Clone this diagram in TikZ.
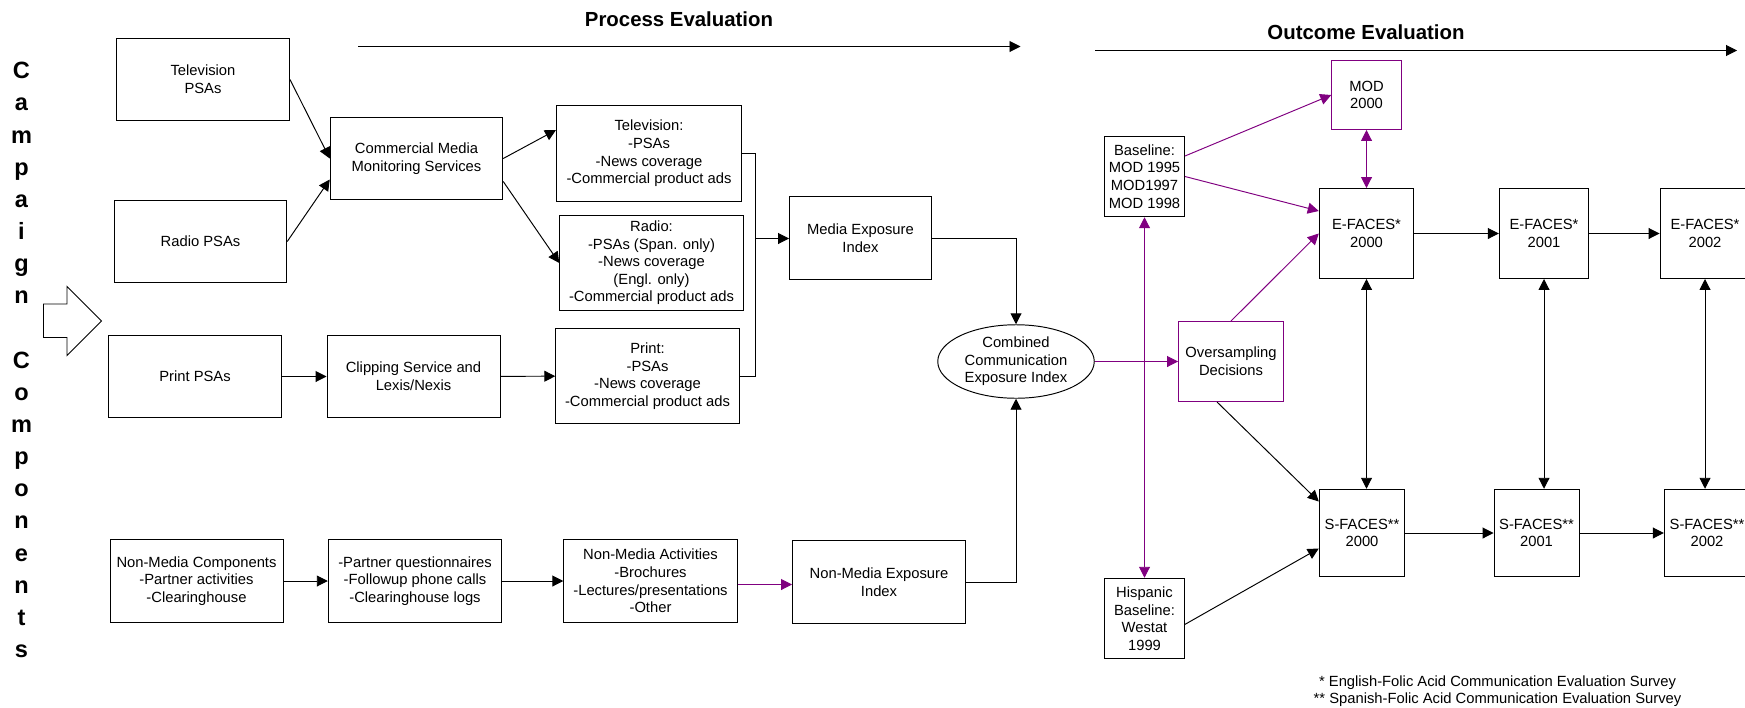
\documentclass[tikz,border=0pt]{standalone}
\usepackage{fontspec}
\setmainfont{Liberation Sans}
\usepackage{tikz}
\usetikzlibrary{arrows.meta, positioning, shapes.geometric, calc}
\definecolor{evalPurple}{HTML}{800080}
\definecolor{lineDark}{HTML}{000000}

\begin{document}
\begin{tikzpicture}[
    >={Triangle[length=2.2mm, width=2.2mm]},
    line width=0.55pt,
    box/.style={rectangle, draw=#1, line width=0.55pt, inner sep=1pt,
                font=\fontsize{8.4}{10}\selectfont, align=center},
    box/.default=lineDark,
    oval/.style={ellipse, draw, line width=0.55pt, inner sep=0pt,
                 font=\fontsize{8.4}{10}\selectfont, align=center},
    heading/.style={font=\fontsize{11.6}{14}\selectfont\bfseries},
  ]
    \clip (0,0) rectangle (34.9,-14.14);

    % campaign components
    \node[font=\fontsize{13.4}{18.3}\selectfont\bfseries, align=center] (campaign) at (0.43,-7.20)
      {C\\a\\m\\p\\a\\i\\g\\n\\~\\C\\o\\m\\p\\o\\n\\e\\n\\t\\s};
    \draw (0.87,-6.08) -- (1.34,-6.08) -- (1.34,-5.73) -- (2.03,-6.42)
      -- (1.34,-7.11) -- (1.34,-6.75) -- (0.87,-6.75) -- cycle;

    % evaluation headings
    \node[heading] (procTitle) at (13.58,-0.38) {Process Evaluation};
    \node[heading] (outTitle) at (27.32,-0.65) {Outcome Evaluation};
    \coordinate (procStart) at (7.16,-0.93);
    \coordinate (procEnd) at (20.41,-0.93);
    \coordinate (outStart) at (21.90,-1.01);
    \coordinate (outEnd) at (34.74,-1.01);
    \draw[->] (procStart) -- (procEnd);
    \draw[->] (outStart) -- (outEnd);

    % media components
    \node[box, minimum width=3.46cm, minimum height=1.65cm] (tvpsa) at (4.06,-1.59)
      {Television\\PSAs};
    \node[box, minimum width=3.45cm, minimum height=1.65cm] (radiopsa) at (4.01,-4.83)
      {Radio PSAs};
    \node[box, minimum width=3.46cm, minimum height=1.64cm] (printpsa) at (3.90,-7.53)
      {Print PSAs};
    \node[box, minimum width=3.45cm, minimum height=1.65cm] (cmm) at (8.33,-3.17)
      {Commercial Media\\Monitoring Services};
    \node[box, minimum width=3.46cm, minimum height=1.64cm] (clip) at (8.27,-7.53)
      {Clipping Service and\\Lexis/Nexis};
    \node[box, minimum width=3.70cm, minimum height=1.91cm] (tvlist) at (12.98,-3.07)
      {Television:\\-PSAs\\-News coverage\\-Commercial product ads};
    \node[box, minimum width=3.67cm, minimum height=1.91cm] (radiolist) at (13.03,-5.26)
      {Radio:\\-PSAs (Span. only)\\-News coverage\\(Engl. only)\\-Commercial product ads};
    \node[box, minimum width=3.67cm, minimum height=1.91cm] (printlist) at (12.95,-7.52)
      {Print:\\-PSAs\\-News coverage\\-Commercial product ads};
    \node[box, minimum width=2.84cm, minimum height=1.65cm] (mediaidx) at (17.21,-4.76)
      {Media Exposure\\Index};
    \coordinate (brk) at (15.10,-4.77);

    % non-media components
    \node[box, minimum width=3.46cm, minimum height=1.66cm] (nmcomp) at (3.93,-11.62)
      {Non-Media Components\\-Partner activities\\-Clearinghouse};
    \node[box, minimum width=3.47cm, minimum height=1.66cm] (partner) at (8.30,-11.62)
      {-Partner questionnaires\\-Followup phone calls\\-Clearinghouse logs};
    \node[box, minimum width=3.47cm, minimum height=1.66cm] (nmact) at (13.01,-11.62)
      {Non-Media Activities\\-Brochures\\-Lectures/presentations\\-Other};
    \node[box, minimum width=3.46cm, minimum height=1.65cm] (nmidx) at (17.58,-11.64)
      {Non-Media Exposure\\Index};

    \node[oval, minimum width=3.13cm, minimum height=1.47cm] (combined) at (20.32,-7.23)
      {Combined\\Communication\\Exposure Index};

    % outcome evaluation
    \node[box, minimum width=1.60cm, minimum height=1.61cm] (baseline) at (22.89,-3.53)
      {Baseline:\\MOD 1995\\MOD1997\\MOD 1998};
    \node[box, minimum width=1.59cm, minimum height=1.61cm] (hispanic) at (22.89,-12.37)
      {Hispanic\\Baseline:\\Westat\\1999};
    \node[box=evalPurple, minimum width=2.10cm, minimum height=1.60cm] (osamp) at (24.62,-7.23)
      {Oversampling\\Decisions};
    \node[box=evalPurple, minimum width=1.39cm, minimum height=1.38cm] (mod2000) at (27.33,-1.90)
      {MOD\\2000};
    \node[box, minimum width=1.89cm, minimum height=1.80cm] (e2000) at (27.33,-4.67)
      {E-FACES*\\2000};
    \node[box, minimum width=1.79cm, minimum height=1.80cm] (e2001) at (30.88,-4.67)
      {E-FACES*\\2001};
    \node[box, minimum width=1.80cm, minimum height=1.80cm] (e2002) at (34.10,-4.67)
      {E-FACES*\\2002};
    \node[box, minimum width=1.71cm, minimum height=1.75cm] (s2000) at (27.24,-10.66)
      {S-FACES**\\2000};
    \node[box, minimum width=1.70cm, minimum height=1.75cm] (s2001) at (30.73,-10.66)
      {S-FACES**\\2001};
    \node[box, minimum width=1.71cm, minimum height=1.75cm] (s2002) at (34.14,-10.66)
      {S-FACES**\\2002};

    \node[font=\fontsize{8.4}{10}\selectfont, align=center] (notes) at (29.95,-13.82)
      {* English-Folic Acid Communication Evaluation Survey\\
       ** Spanish-Folic Acid Communication Evaluation Survey};

    % process connectors
    \draw[->] (tvpsa.east) -- (cmm.west);
    \draw[->] (radiopsa.east) -- ([yshift=-0.42cm]cmm.west);
    \draw[->] (cmm.east) -- ([yshift=0.47cm]tvlist.west);
    \draw[->] ([yshift=-0.46cm]cmm.east) -- (radiolist.west);
    \draw[->] (printpsa) -- (clip);
    \draw[->] (clip) -- (printlist);
    \draw (tvlist.east) -| (brk) |- (printlist.east);
    \draw[->] (brk) -- (brk -| mediaidx.west);
    \draw[->] (mediaidx.east) -| (combined.north);
    \draw[->] (nmcomp) -- (partner);
    \draw[->] (partner) -- (nmact);
    \draw[->, evalPurple] ([yshift=-0.07cm]nmact.east) -- ([yshift=-0.07cm]nmact.east -| nmidx.west);
    \draw[->] (nmidx.east) -| (combined.south);

    % outcome connectors
    \draw[->, evalPurple] (combined.east) -- (osamp.west);
    \draw[->, evalPurple] ([yshift=0.41cm]baseline.east) -- (mod2000.west);
    \draw[->, evalPurple] (baseline.east) -- ([yshift=0.45cm]e2000.west);
    \draw[<->, evalPurple] (mod2000) -- (e2000);
    \draw[->, evalPurple] (osamp.north) -- (e2000.west);
    \draw[<->, evalPurple] (baseline) -- (hispanic);
    \draw[->] ([xshift=-0.28cm]osamp.south) -- ([yshift=0.63cm]s2000.west);
    \draw[->] ([yshift=-0.12cm]hispanic.east) -- ([yshift=-0.31cm]s2000.west);
    \draw[->] (e2000) -- (e2001);
    \draw[->] (e2001) -- (e2002);
    \draw[->] (s2000) -- (s2001);
    \draw[->] (s2001) -- (s2002);
    \draw[<->] (e2000.south) -- (e2000.south |- s2000.north);
    \draw[<->] (e2001.south) -- (e2001.south |- s2001.north);
    \draw[<->] (e2002.south) -- (e2002.south |- s2002.north);
  \end{tikzpicture}
\end{document}
